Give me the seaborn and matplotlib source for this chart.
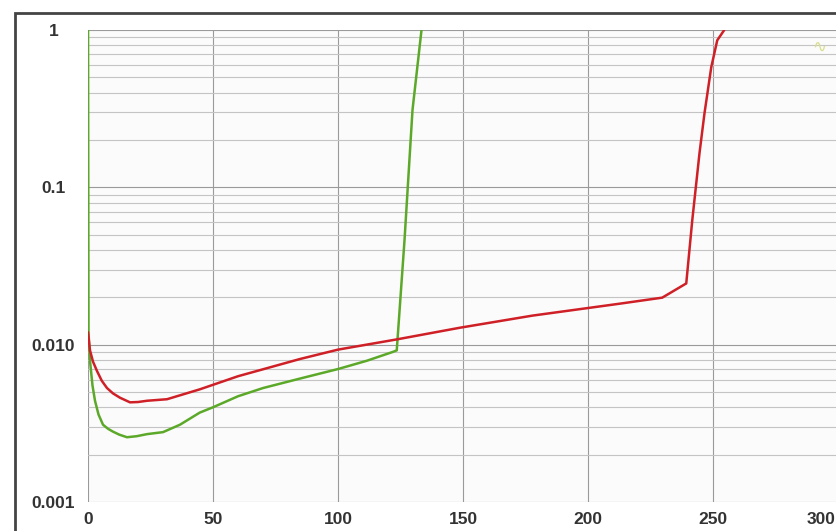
import matplotlib
matplotlib.use("Agg")
import matplotlib.pyplot as plt
import matplotlib.ticker as mticker
import matplotlib.transforms as mtransforms
from matplotlib.patches import Rectangle
import seaborn as sns
import pandas as pd

# values
green_x = [0, 0.2, 0.8, 1.8, 2.8, 4.2, 6, 8, 10, 12.5, 15.6, 19.5, 23.6, 30,
           36.8, 44.7, 50, 60, 70, 85, 100, 111.5, 122, 123.5, 126.6, 129.8, 133.4]
green_y = [1.0, 0.012, 0.0079, 0.0055, 0.0044, 0.0036, 0.0031, 0.00292, 0.0028,
           0.00268, 0.00258, 0.00262, 0.0027, 0.00278, 0.0031, 0.0037, 0.0040,
           0.0047, 0.0053, 0.0061, 0.0070, 0.0079, 0.0090, 0.0092, 0.046, 0.31, 1.0]
red_x = [0, 0.8, 2, 3.6, 5.5, 7.6, 10, 12.8, 16.8, 20, 23.6, 31.6, 44.7, 60,
         84.7, 100, 123.5, 148.6, 177.8, 212.5, 229.7, 239.3, 241.7, 244.6,
         246.6, 249.3, 251.7, 254.5]
red_y = [0.012, 0.0092, 0.0078, 0.0068, 0.0059, 0.0053, 0.0049, 0.0046, 0.0043,
         0.00432, 0.0044, 0.0045, 0.0052, 0.0063, 0.0081, 0.0093, 0.0108, 0.0128,
         0.0153, 0.0182, 0.0199, 0.0245, 0.0616, 0.165, 0.296, 0.58, 0.86, 1.0]

x_ticks = [0, 50, 100, 150, 200, 250, 300]
y_ticks = [0.001, 0.01, 0.1, 1]
y_labels = ["0.001", "0.010", "0.1", "1"]

df = pd.concat([
    pd.DataFrame({"x": green_x, "y": green_y, "series": "green"}),
    pd.DataFrame({"x": red_x, "y": red_y, "series": "red"}),
])

sns.set_style("white")
plt.rcParams["font.family"] = ["Liberation Sans", "DejaVu Sans"]

fig = plt.figure(figsize=(8.37, 5.31), dpi=100)
ax = fig.add_axes([88 / 837, 1 - 502 / 531, 750 / 837, 472 / 531])
ax.set_facecolor("#fbfbfb")

sns.lineplot(data=df, x="x", y="y", hue="series", units="series", estimator=None,
             sort=False, palette={"green": "#5ca92a", "red": "#cf2027"},
             linewidth=1.8, legend=False, ax=ax)

ax.set_yscale("log")
ax.set_xlim(0, 300)
ax.set_ylim(0.001, 1)
ax.set_xticks(x_ticks)
ax.set_yticks(y_ticks)
ax.set_yticklabels(y_labels)
ax.yaxis.set_minor_locator(mticker.LogLocator(base=10, subs=range(2, 10)))
ax.yaxis.set_minor_formatter(mticker.NullFormatter())

ax.grid(True, which="major", axis="both", color="#9a9a9a", linewidth=0.8)
ax.grid(True, which="minor", axis="y", color="#c4c4c4", linewidth=0.8)
ax.set_axisbelow(True)
for s in ax.spines.values():
    s.set_visible(False)

ax.tick_params(axis="both", which="both", length=0, colors="#333333",
               labelsize=12.5)
ax.tick_params(axis="x", pad=7)
ax.tick_params(axis="y", pad=25)
for lab in ax.get_xticklabels() + ax.get_yticklabels():
    lab.set_fontweight("bold")
for lab in ax.get_yticklabels():
    lab.set_horizontalalignment("center")
# last x label kept inside the picture, as in the original
last = ax.get_xticklabels()[-1]
last.set_horizontalalignment("right")
last.set_transform(last.get_transform() +
                   mtransforms.ScaledTranslation(-2 / 100, 0, fig.dpi_scale_trans))
ax.set_xlabel("")
ax.set_ylabel("")

# faint legend blob at top right
ax.text(0.975, 0.965, "∿", transform=ax.transAxes, color="#d9df8c",
        fontsize=12, ha="center", va="center", family="DejaVu Sans")

# outer frame of the screenshot
fig.add_artist(Rectangle((15.5 / 837, -0.2), 1.0, 1.2 - 12.5 / 531,
                         transform=fig.transFigure, fill=False,
                         edgecolor="#444444", linewidth=2.0))

fig.savefig("out.png", dpi=100)
